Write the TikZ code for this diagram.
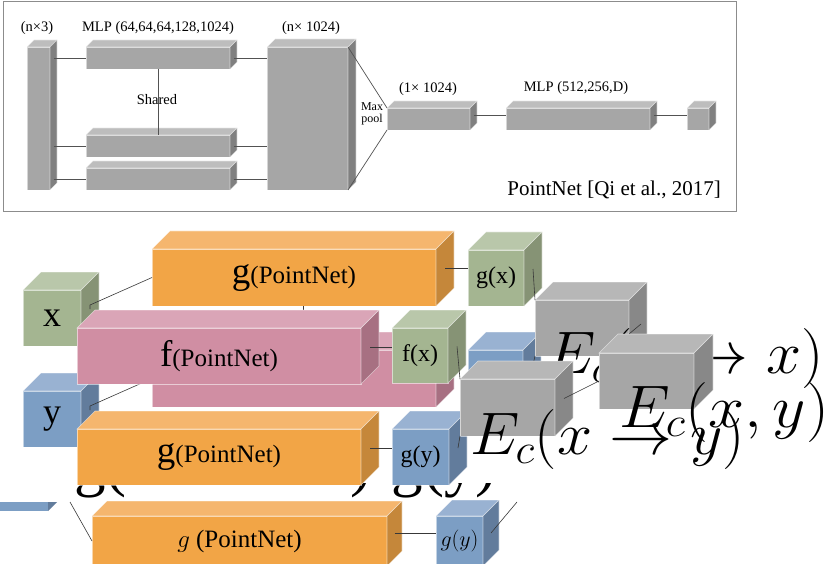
\documentclass[tikz,border=0pt]{standalone}
\usepackage{fix-cm}
\usepackage[no-math]{fontspec}
\setmainfont{Liberation Serif}
% top panel grey
\definecolor{tF}{HTML}{A6A6A6}\definecolor{tT}{HTML}{BDBDBD}\definecolor{tS}{HTML}{808080}
% E boxes grey
\definecolor{eF}{HTML}{A6A6A6}\definecolor{eT}{HTML}{B7B7B7}\definecolor{eS}{HTML}{888888}
% orange
\definecolor{oF}{HTML}{F2A546}\definecolor{oT}{HTML}{F5B66E}\definecolor{oS}{HTML}{C5873A}
% pink
\definecolor{pF}{HTML}{D08EA3}\definecolor{pT}{HTML}{DAA5B7}\definecolor{pS}{HTML}{A77082}
% green
\definecolor{grF}{HTML}{A4B591}\definecolor{grT}{HTML}{B9C7AA}\definecolor{grS}{HTML}{869375}
% blue
\definecolor{bF}{HTML}{7C9EC4}\definecolor{bT}{HTML}{99B2D2}\definecolor{bS}{HTML}{627C9C}
\definecolor{frame}{HTML}{8C8C8C}
\tikzset{
  face/.style={draw=white, draw opacity=0.55, line width=0.6pt},
  fbox/.style={face, inner sep=0pt, outer sep=0pt, text=black},
  link/.style={draw=black!78, line width=0.6pt},
  tlink/.style={draw=black!68, line width=0.7pt},
  bigmath/.style={inner sep=0pt, outer sep=0pt, anchor=base west, font=\fontsize{60}{61}\selectfont},
  toplbl/.style={inner sep=0pt, font=\fontsize{14.5}{16}\selectfont},
}
\newcommand\lbl{\fontsize{24}{24}\selectfont}
\newcommand\gPN{{\fontsize{37}{37}\selectfont g\fontsize{25}{25}\selectfont(PointNet)}}
\newcommand\fPN{{\fontsize{37}{37}\selectfont f\fontsize{25}{25}\selectfont(PointNet)}}
\newcommand\wide[1]{\scalebox{1.05}[1]{#1}}
% #1 name, #2 x, #3 y, #4 w, #5 h, #6 depth, #7 colour prefix, #8 node options, #9 text
\newcommand\cub[9]{%
  \node[fbox, fill=#7F, minimum width=#4pt, minimum height=#5pt, anchor=north west, #8] (#1) at (#2,#3) {#9};
  \path[face, fill=#7T] (#1.north west) -- ++(#6,-#6) -- ++(#4,0) -- (#1.north east) -- cycle;
  \path[face, fill=#7S] (#1.north east) -- ++(#6,-#6) -- ++(0,#5) -- (#1.south east) -- cycle;
  \path (#1.east) ++(0.5*#6,-0.5*#6) coordinate (#1-s);
}
\begin{document}
\begin{tikzpicture}[x=1pt,y=-1pt]
\useasboundingbox (0,0) rectangle (830,564);
\fill[white] (0,0) rectangle (830,564);

%================ top panel =================
\draw[frame, line width=0.8pt] (3,1) rectangle (736,211);
\cub{t0}{27}{47}{23}{143}{7}{t}{}{}
\cub{m1}{86}{47}{144}{22}{7}{t}{}{}
\cub{m2}{86}{135}{144}{22}{7}{t}{}{}
\cub{m3}{86}{168}{144}{22}{7}{t}{}{}
\cub{bg}{267}{47}{81}{143}{8}{t}{}{}
\cub{p1}{387}{108}{83}{22}{7}{t}{}{}
\cub{mp}{506}{108}{144}{22}{7}{t}{}{}
\cub{ot}{687}{108}{22}{22}{7}{t}{}{}

\draw[tlink] (t0-s |- m1.west) -- (m1.west);
\draw[tlink] (t0-s |- m2.west) -- (m2.west);
\draw[tlink] (t0-s |- m3.west) -- (m3.west);
\draw[tlink] (m1-s |- m1.east) -- (bg.west |- m1.east);
\draw[tlink] (m2-s |- m2.east) -- (bg.west |- m2.east);
\draw[tlink] (m3-s |- m3.east) -- (bg.west |- m3.east);
\draw[tlink] (m1.south) -- (m2.north);
\draw[tlink] (bg.north east) -- (p1.north west);
\draw[tlink] (bg.south east) -- (p1.south west);
\draw[tlink] (p1-s) -- (mp.west |- p1-s);
\draw[tlink] (mp-s) -- (ot.west |- mp-s);

\node[toplbl] (l0) at (37,28) {(n×3)};
\node[toplbl] (l1) at (158,28) {MLP (64,64,64,128,1024)};
\node[toplbl] (l2) at (311,28) {(n× 1024)};
\node[toplbl] (l3) at (157,100) {Shared};
\node[inner sep=0pt, align=center, font=\fontsize{12}{12}\selectfont] (l4) at (372,114) {Max\\pool};
\node[toplbl] (l5) at (428,89) {(1× 1024)};
\node[toplbl] (l6) at (576,88) {MLP (512,256,D)};
\node[inner sep=0pt, anchor=base east, font=\fontsize{21}{22}\selectfont] (l7) at (721,196) {PointNet [Qi et al., 2017]};

%================ bottom part =================
% fragment of a large text, only its lower part shows
\begin{scope}
  \clip (0,483) rectangle (830,500);
  \node[inner sep=0pt, anchor=base west, font=\fontsize{63}{63}\selectfont] (gg) at (74,484) {g(\hspace{224pt})\hspace{20pt}g(y)};
\end{scope}
% fragment of a blue block at the left edge
\fill[bF] (0,502) rectangle (48,511);
\fill[bS] (48,502) -- (57,502) -- (48,511) -- cycle;
\coordinate (lfree) at (70,502);

\cub{go1}{152}{249}{284}{57}{18}{o}{}{\gPN}
\cub{cx}{23}{290}{58}{56}{18}{gr}{font=\fontsize{36}{36}\selectfont}{x}
\draw[link] (cx-s) -- ++(0,-4) -- (go1.west);
\cub{gx}{468}{250}{56}{56}{18}{gr}{font=\lbl}{g(x)}
\draw[link] (go1-s) -- (gx.west |- go1-s);
\coordinate (v1) at (303,306);
\coordinate (v2) at (303,326);
\draw[link] (v1) -- (v2);

\cub{bb}{468}{350}{55}{56}{18}{b}{}{}
\cub{fp2}{152}{350}{284}{57}{18}{p}{}{}
\cub{cy}{23}{391}{58}{56}{18}{b}{font=\fontsize{36}{36}\selectfont}{y}
\draw[link] (cy-s) -- ++(0,-4) -- (fp2.west);
\cub{fp1}{77}{328}{284}{56}{18}{p}{}{\fPN}
\cub{fx}{392}{328}{56}{55}{18}{gr}{font=\lbl}{f(x)}
\draw[link] (fp1-s) -- (fx.west |- fp1-s);

\cub{e1}{535}{300}{94}{56}{18}{e}{}{}
\draw[link] (gx-s) -- (e1.north west);
\draw[link] (bb-s) -- (e1.south west);
\coordinate (c1) at (629,334);
\coordinate (c2) at (641,324);
\draw[link] (c1) -- (c2);
\node[bigmath] (t1) at (546,373) {\wide{$E_c(x\to x)$}};

\cub{go2}{77}{429}{284}{56}{18}{o}{}{\gPN}
\cub{gym}{392}{429}{57}{56}{18}{b}{font=\lbl}{g(y)}
\draw[link] (go2-s) -- (gym.west |- go2-s);

\cub{e3}{599}{353}{95}{56}{19}{e}{}{}
\node[bigmath] (t3) at (619,427) {\scalebox{1.08}[1]{$E_c(x,y)$}};
\cub{e2}{460}{379}{95}{57}{18}{e}{}{}
\draw[link] (e2-s) -- (e3.west);
\draw[link] (fx-s) -- (e2.north west);
\draw[link] (gym-s) -- (e2.south west);
\node[bigmath] (t2) at (470,454) {\wide{$E_c(x\to y)$}};

\cub{go3}{92}{516}{295}{50}{15}{o}{font=\fontsize{25}{25}\selectfont}{$g$ (PointNet)}
\draw[link] (lfree) -- (go3.west);
\cub{gyb}{436}{516}{47}{50}{16}{b}{font=\fontsize{22}{22}\selectfont}{$g(y)$}
\draw[link] (go3-s) -- (gyb.west |- go3-s);
\coordinate (gfree) at (517,502);
\draw[link] (gyb-s) -- (gfree);
\end{tikzpicture}
\end{document}
